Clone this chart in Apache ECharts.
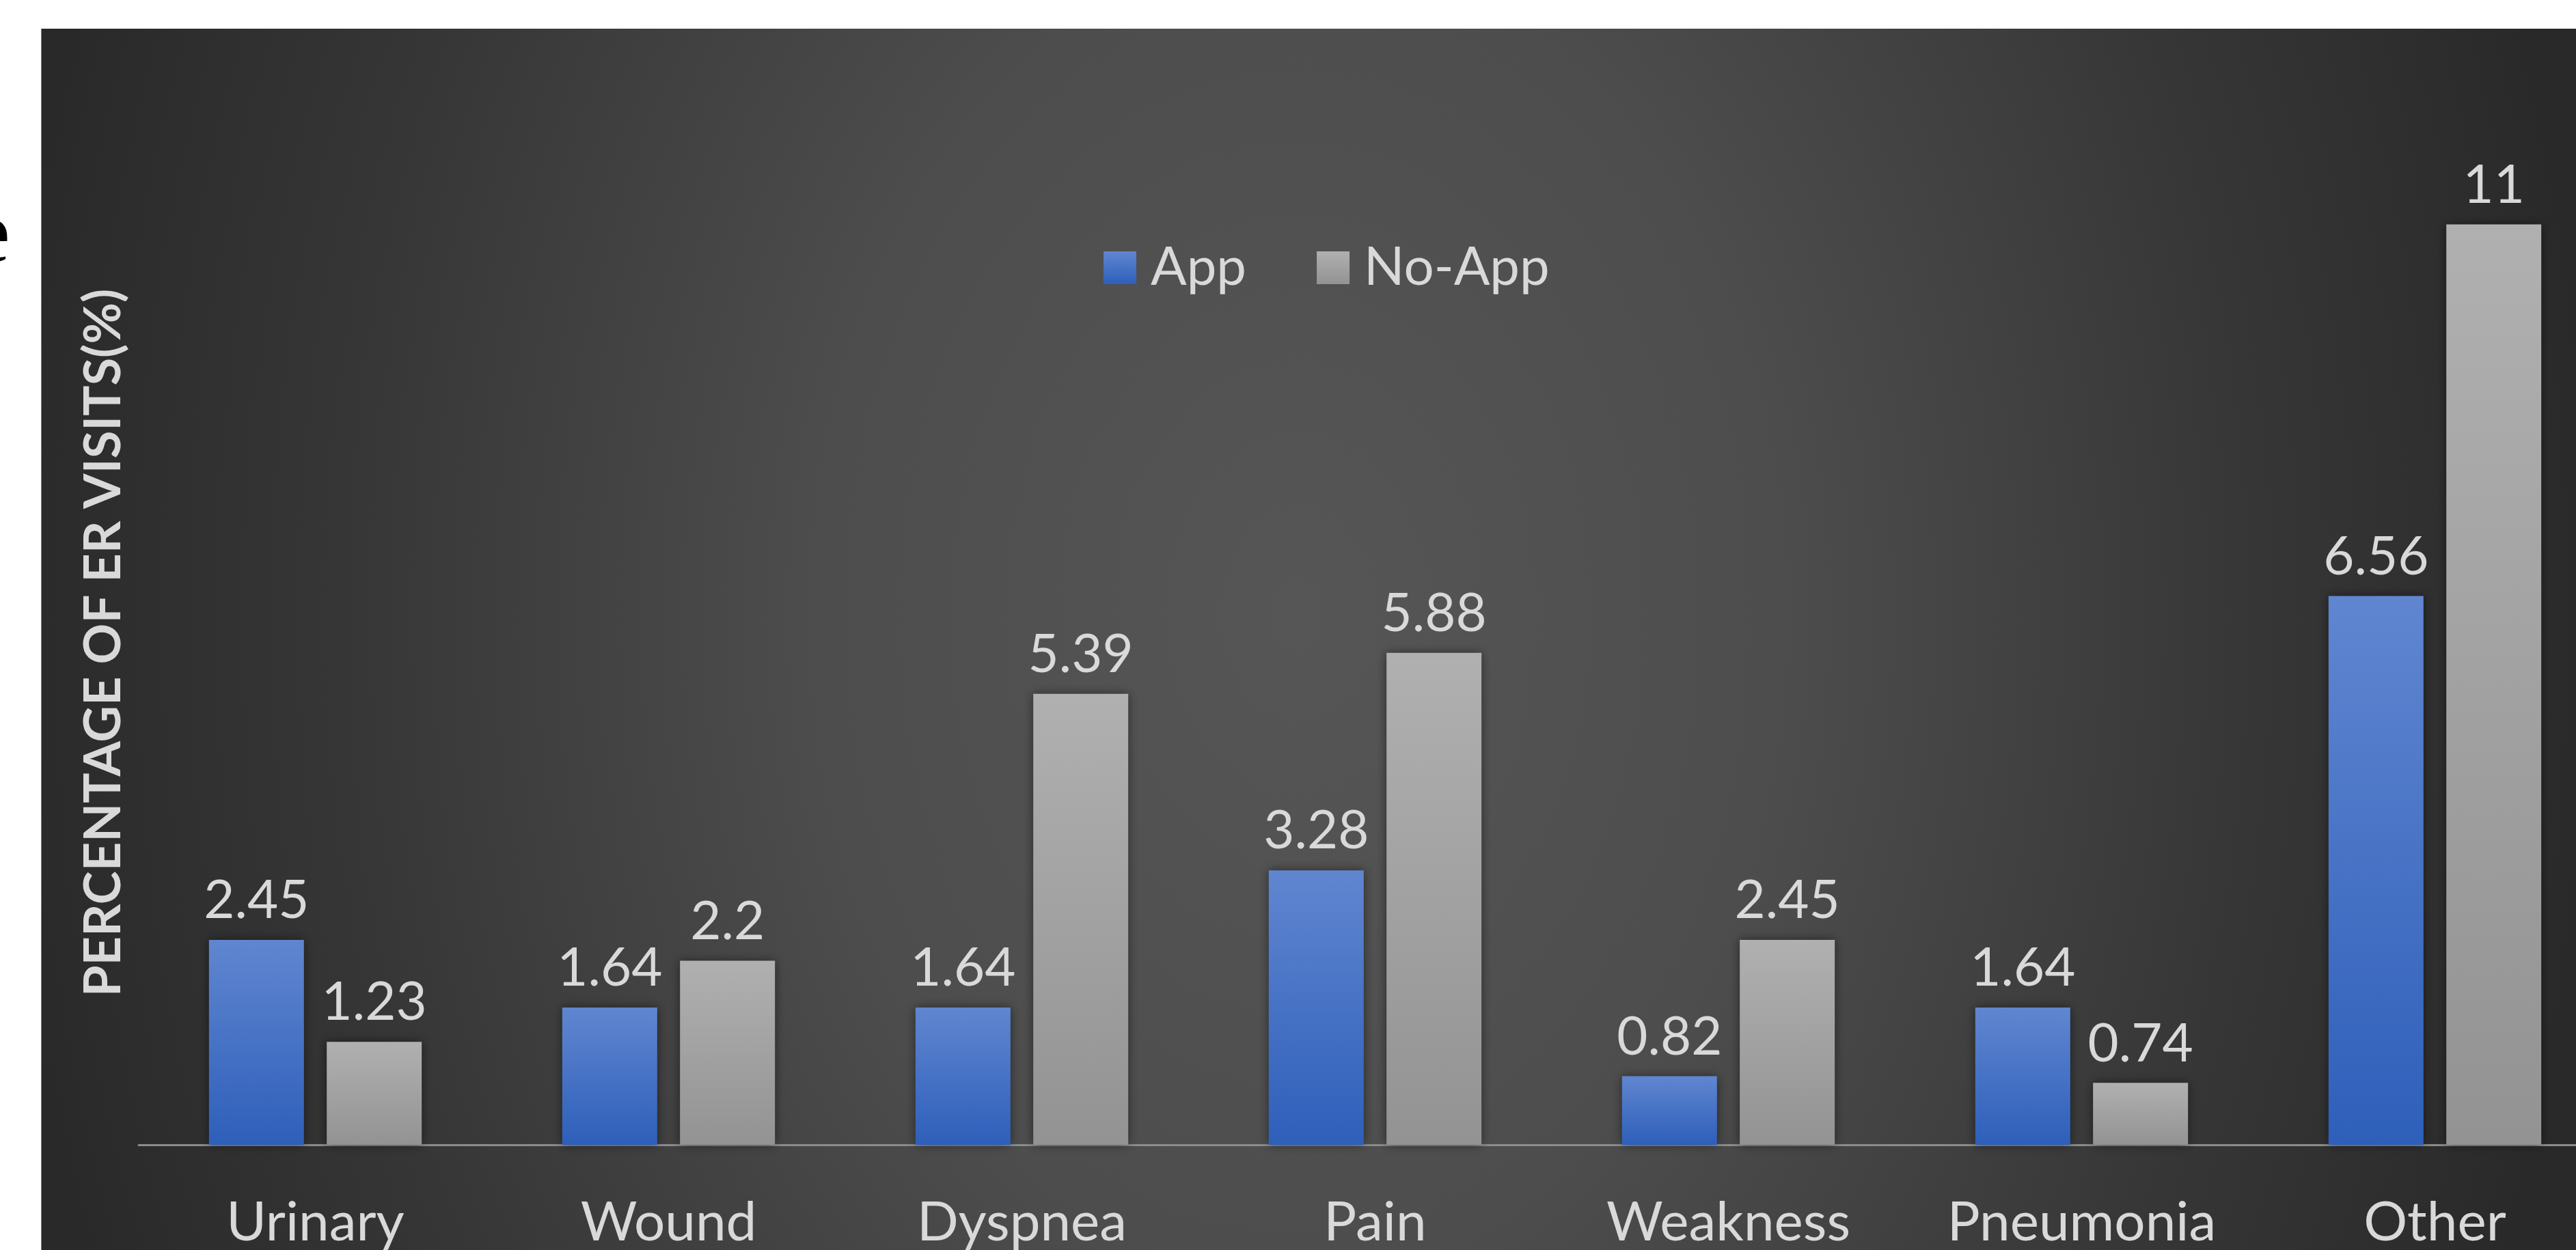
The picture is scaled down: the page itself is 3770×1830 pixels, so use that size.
<!DOCTYPE html>
<html>
<head>
<meta charset="utf-8">
<script src="https://cdn.jsdelivr.net/npm/echarts@6/dist/echarts.min.js"></script>
<style>
  html, body { margin: 0; padding: 0; background: #fff; }
  #main { width: 3770px; height: 1830px; }
</style>
</head>
<body>
<div id="main"></div>
<script>
  // data
  const categories = ['Urinary', 'Wound', 'Dyspnea', 'Pain', 'Weakness', 'Pneumonia', 'Other'];
  const appValues = [2.45, 1.64, 1.64, 3.28, 0.82, 1.64, 6.56];
  const noAppValues = [1.23, 2.2, 5.39, 5.88, 2.45, 0.74, 11];
  const seriesNames = ['App', 'No-App'];
  const yTitle = 'PERCENTAGE OF ER VISITS(%)';

  const textColor = '#d9d9d9';
  const fontFamily = 'Lato';

  const myChart = echarts.init(document.getElementById('main'));

  const appFill = new echarts.graphic.LinearGradient(0, 0, 0, 1, [
    {offset: 0, color: '#6086d0'},
    {offset: 1, color: '#2e5fba'}
  ]);
  const noAppFill = new echarts.graphic.LinearGradient(0, 0, 0, 1, [
    {offset: 0, color: '#b0b0b0'},
    {offset: 1, color: '#939393'}
  ]);

  const barLabel = {
    show: true,
    position: 'top',
    distance: 18,
    color: textColor,
    fontSize: 78,
    fontFamily: fontFamily
  };

  myChart.setOption({
    animation: false,
    backgroundColor: '#fff',
    graphic: [
      {
        // dark panel, wide soft glow in the middle
        type: 'rect',
        silent: true,
        z: -100,
        x: 1900,
        y: 900,
        scaleX: 1.9,
        scaleY: 2.6,
        shape: {x: -1000, y: -1000, width: 2000, height: 2000},
        style: {
          fill: new echarts.graphic.RadialGradient(0.5, 0.5, 0.5, [
            {offset: 0, color: '#565656'},
            {offset: 0.37, color: '#4d4d4d'},
            {offset: 0.74, color: '#363636'},
            {offset: 0.97, color: '#2b2b2b'},
            {offset: 1, color: '#292929'}
          ])
        }
      },
      {type: 'rect', silent: true, z: -99, shape: {x: 0, y: 0, width: 60, height: 1830}, style: {fill: '#fff'}},
      {type: 'rect', silent: true, z: -99, shape: {x: 0, y: 0, width: 3770, height: 42}, style: {fill: '#fff'}},
      {type: 'line', silent: true, z: -98, shape: {x1: 60.5, y1: 42, x2: 60.5, y2: 1830}, style: {stroke: '#7a7a7a', lineWidth: 1}},
      {
        // cut-off letter from the slide to the left
        type: 'text',
        silent: true,
        z: -98,
        x: 15,
        y: 349,
        style: {
          text: 'e',
          fontSize: 130,
          fontFamily: 'Liberation Serif',
          fill: '#000',
          align: 'right',
          verticalAlign: 'middle'
        }
      }
    ],
    legend: {
      data: seriesNames,
      left: 1610,
      top: 348,
      icon: 'rect',
      itemWidth: 48,
      itemHeight: 48,
      itemGap: 103,
      textStyle: {
        color: textColor,
        fontSize: 78,
        fontFamily: fontFamily,
        padding: [0, 0, 0, 16]
      }
    },
    grid: {
      left: 203,
      width: 3619,
      top: 206,
      bottom: 154,
      outerBoundsMode: 'none',
      containLabel: false
    },
    xAxis: {
      type: 'category',
      data: categories,
      axisTick: {show: false},
      axisLine: {lineStyle: {color: '#8c8c8c', width: 3}},
      axisLabel: {
        interval: 0,
        color: textColor,
        fontSize: 80,
        fontFamily: fontFamily,
        margin: 74
      }
    },
    yAxis: {
      type: 'value',
      min: 0,
      max: 12,
      axisLine: {show: false},
      axisTick: {show: false},
      axisLabel: {show: false},
      splitLine: {show: false},
      name: yTitle,
      nameLocation: 'middle',
      nameRotate: 90,
      nameGap: 14,
      nameTextStyle: {
        color: textColor,
        fontSize: 74,
        fontWeight: 'bold',
        fontFamily: fontFamily
      }
    },
    series: [
      {
        name: seriesNames[0],
        type: 'bar',
        data: appValues,
        barWidth: 139,
        barGap: '24%',
        itemStyle: {
          color: appFill,
          shadowBlur: 14,
          shadowColor: 'rgba(0,0,0,0.5)'
        },
        label: barLabel
      },
      {
        name: seriesNames[1],
        type: 'bar',
        data: noAppValues,
        barWidth: 139,
        barGap: '24%',
        itemStyle: {
          color: noAppFill,
          shadowBlur: 14,
          shadowColor: 'rgba(0,0,0,0.5)'
        },
        label: barLabel
      }
    ]
  });
</script>
</body>
</html>
